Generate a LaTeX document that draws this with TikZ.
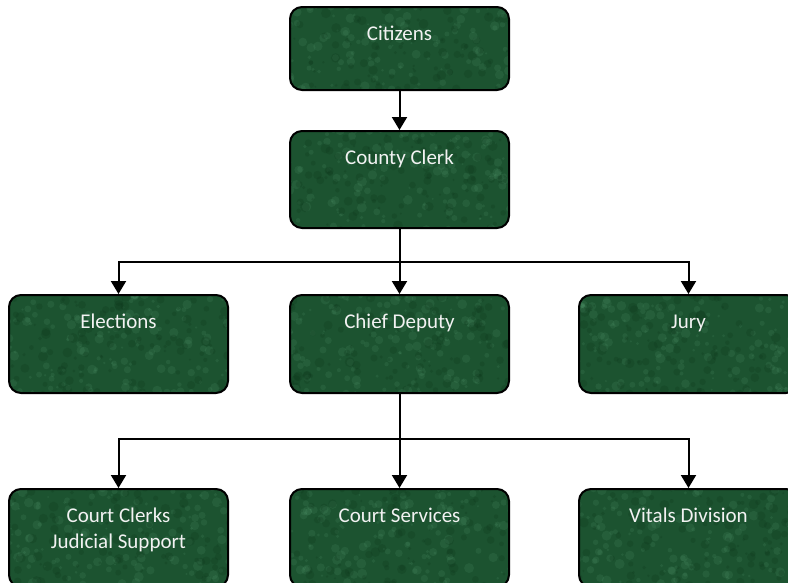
\documentclass[tikz,border=0pt]{standalone}
\usepackage{fontspec}
\setmainfont{Carlito}
\usetikzlibrary{arrows.meta,calc}
\definecolor{boxgreen}{HTML}{1C5330}
\definecolor{spotlight}{HTML}{6AB386}
\definecolor{spotdark}{HTML}{093016}
\definecolor{txtwhite}{HTML}{F2F2F2}
\tikzset{
  orgbox/.style={draw=black, line width=2pt, rounded corners=12pt, fill=boxgreen,
    minimum width=219pt, minimum height=#1, inner sep=0pt, anchor=north,
    path picture={
      \foreach \i in {1,...,150}{
        \fill[spotlight,opacity=0.12] (path picture bounding box.center) ++(rand*115pt,rand*52pt) circle[radius=1pt+rnd*4pt];
      }
      \foreach \i in {1,...,120}{
        \fill[spotdark,opacity=0.2] (path picture bounding box.center) ++(rand*115pt,rand*52pt) circle[radius=1pt+rnd*4pt];
      }
    }},
  orgbox/.default=98pt,
  boxtext/.style={text=txtwhite, font=\fontsize{21}{25.6}\selectfont, align=center, inner sep=0pt, anchor=base},
  conn/.style={draw=black, line width=2pt, -{Triangle[length=13pt,width=15pt]}}
}
\begin{document}
\begin{tikzpicture}[x=1pt,y=-1pt]
\pgfmathsetseed{4242}
\useasboundingbox (0,0) rectangle (788,582);
\clip (0,0) rectangle (788,582);
% boxes
\node[orgbox=83pt] (cit) at (399.5,6) {};
\node[orgbox=97pt] (cc) at (399.5,130) {};
\node[orgbox] (el) at (118.5,294) {};
\node[orgbox] (cd) at (399.5,294) {};
\node[orgbox] (jury) at (688.5,294) {};
\node[orgbox] (ccj) at (118.5,488) {};
\node[orgbox] (cs) at (399.5,488) {};
\node[orgbox] (vit) at (688.5,488) {};
% texts
\node[boxtext] (tcit) at ([yshift=-34pt]cit.north) {Citizens};
\node[boxtext] (tcc) at ([yshift=-34pt]cc.north) {County Clerk};
\node[boxtext] (tel) at ([yshift=-34pt]el.north) {Elections};
\node[boxtext] (tcd) at ([yshift=-34pt]cd.north) {Chief Deputy};
\node[boxtext] (tjury) at ([yshift=-34pt]jury.north) {Jury};
\node[boxtext] (tccj) at ([yshift=-60pt]ccj.north) {Court Clerks\\Judicial Support};
\node[boxtext] (tcs) at ([yshift=-34pt]cs.north) {Court Services};
\node[boxtext] (tvit) at ([yshift=-34pt]vit.north) {Vitals Division};
% junctions
\coordinate (j1) at (399.5,262);
\coordinate (j2) at (399.5,439);
% connectors
\draw[conn] (cit.south) -- (cc.north);
\draw[line width=2pt] (cc.south) -- (j1);
\draw[conn] (j1) -| (el.north);
\draw[conn] (j1) -- (cd.north);
\draw[conn] (j1) -| (jury.north);
\draw[line width=2pt] (cd.south) -- (j2);
\draw[conn] (j2) -| (ccj.north);
\draw[conn] (j2) -- (cs.north);
\draw[conn] (j2) -| (vit.north);
\end{tikzpicture}
\end{document}
